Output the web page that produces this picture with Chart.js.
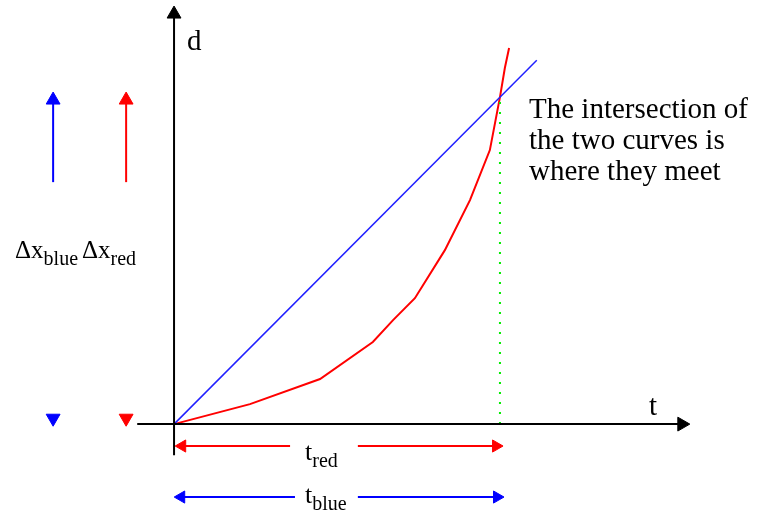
<!DOCTYPE html>
<html>
<head>
<meta charset="utf-8">
<script src="https://cdn.jsdelivr.net/npm/chart.js@4/dist/chart.umd.min.js"></script>
<style>
  body { margin: 0; background: #fff; }
  #wrap { width: 762px; height: 516px; }
</style>
</head>
<body>
<div id="wrap"><canvas id="myChart" width="762" height="516"></canvas></div>
<script>
// values (t along, d up, meeting point at t=10, d=10)
const tRange = [-5.34, 18.04]
const dRange = [-2.81, 12.97]

const redT = [0, 2.33, 4.48, 6.10, 6.72, 7.39, 8.31, 9.08, 9.69, 10, 10.15, 10.28]
const redD = [0, 0.61, 1.38, 2.51, 3.18, 3.85, 5.32, 6.85, 8.38, 10, 10.89, 11.5]

const blueT = [0, 11.13]
const blueD = [0, 11.13]

const meetT = 10
const meetD = 10

// axis lines
const tAxisEnds = [-1.13, 15.58]
const dAxisEnds = [-0.95, 12.54]

// Δx arrows on the left
const deltaBlueT = -3.71
const deltaRedT = -1.47
const deltaArrowD = [7.40, 9.91]
const deltaFootD = 0.18

// time spans under the axis
const tRedSpan = [0.25, 3.56, 5.64, 9.88]
const tRedLevel = -0.67
const tBlueSpan = [0.22, 3.71, 5.64, 9.91]
const tBlueLevel = -2.23

function pts(xs, ys) {
  return xs.map((x, i) => ({ x: x, y: ys[i] }))
}

function line(data, color, width, extra) {
  return Object.assign({
    data: data,
    showLine: true,
    borderColor: color,
    backgroundColor: color,
    borderWidth: width,
    pointRadius: 0,
    pointStyle: 'triangle',
    pointBorderWidth: 1,
    tension: 0,
    spanGaps: false,
    clip: false
  }, extra || {})
}

// a double headed arrow with a gap in the middle for its label
function spanArrow(span, level, color) {
  const data = [
    { x: span[0], y: level },
    { x: span[1], y: level },
    { x: (span[1] + span[2]) / 2, y: null },
    { x: span[2], y: level },
    { x: span[3], y: level }
  ]
  return line(data, color, 2, {
    pointRadius: [7, 0, 0, 0, 7],
    pointRotation: [270, 0, 0, 0, 90]
  })
}

function upArrow(t, color) {
  return line(pts([t, t], deltaArrowD), color, 2, {
    pointRadius: [0, 8],
    pointRotation: [0, 0]
  })
}

function footMark(t, color) {
  return line([{ x: t, y: deltaFootD }], color, 0, {
    showLine: false,
    pointRadius: 8,
    pointRotation: 180
  })
}

const datasets = [
  line(pts(tAxisEnds, [0, 0]), '#000', 2, { pointRadius: [0, 8], pointRotation: [0, 90] }),
  line(pts([0, 0], dAxisEnds), '#000', 2, { pointRadius: [0, 8], pointRotation: [0, 0] }),
  line(pts([meetT, meetT], [0, meetD]), '#00ee00', 2, { borderDash: [2, 8] }),
  line(pts(blueT, blueD), '#2020ff', 1.5),
  line(pts(redT, redD), '#ff0000', 2),
  upArrow(deltaBlueT, '#0000ff'),
  upArrow(deltaRedT, '#ff0000'),
  footMark(deltaBlueT, '#0000ff'),
  footMark(deltaRedT, '#ff0000'),
  spanArrow(tRedSpan, tRedLevel, '#ff0000'),
  spanArrow(tBlueSpan, tBlueLevel, '#0000ff')
]

const serif = '"Liberation Serif", "Times New Roman", serif'

// text drawn on top: main text plus an optional subscript
const textPlugin = {
  id: 'texts',
  afterDraw(chart) {
    const c = chart.ctx
    c.save()
    c.fillStyle = '#000'
    c.textBaseline = 'alphabetic'
    c.textAlign = 'left'
    function put(main, sub, x, y, size, subSize) {
      c.font = size + 'px ' + serif
      c.fillText(main, x, y)
      if (sub) {
        const w = c.measureText(main).width
        c.font = subSize + 'px ' + serif
        c.fillText(sub, x + w, y + 7)
        return x + w + c.measureText(sub).width
      }
      return x + c.measureText(main).width
    }
    put('d', null, 187, 50, 29)
    put('t', null, 649, 415, 29)
    put('The intersection of', null, 529, 118, 29)
    put('the two curves is', null, 529, 149, 29)
    put('where they meet', null, 529, 180, 29)
    const end = put('Δx', 'blue', 15, 258, 25, 20)
    put('Δx', 'red', end + 4, 258, 25, 20)
    put('t', 'red', 305, 460, 26, 20)
    put('t', 'blue', 305, 503, 26, 20)
    c.restore()
  }
}

const config = {
  type: 'scatter',
  data: { datasets: datasets },
  options: {
    responsive: false,
    animation: false,
    events: [],
    layout: { padding: 0, autoPadding: false },
    plugins: {
      legend: { display: false },
      tooltip: { enabled: false }
    },
    scales: {
      x: { type: 'linear', display: false, min: tRange[0], max: tRange[1] },
      y: { type: 'linear', display: false, min: dRange[0], max: dRange[1] }
    }
  },
  plugins: [textPlugin]
}

const myChart = new Chart(document.getElementById('myChart'), config)
</script>
</body>
</html>
